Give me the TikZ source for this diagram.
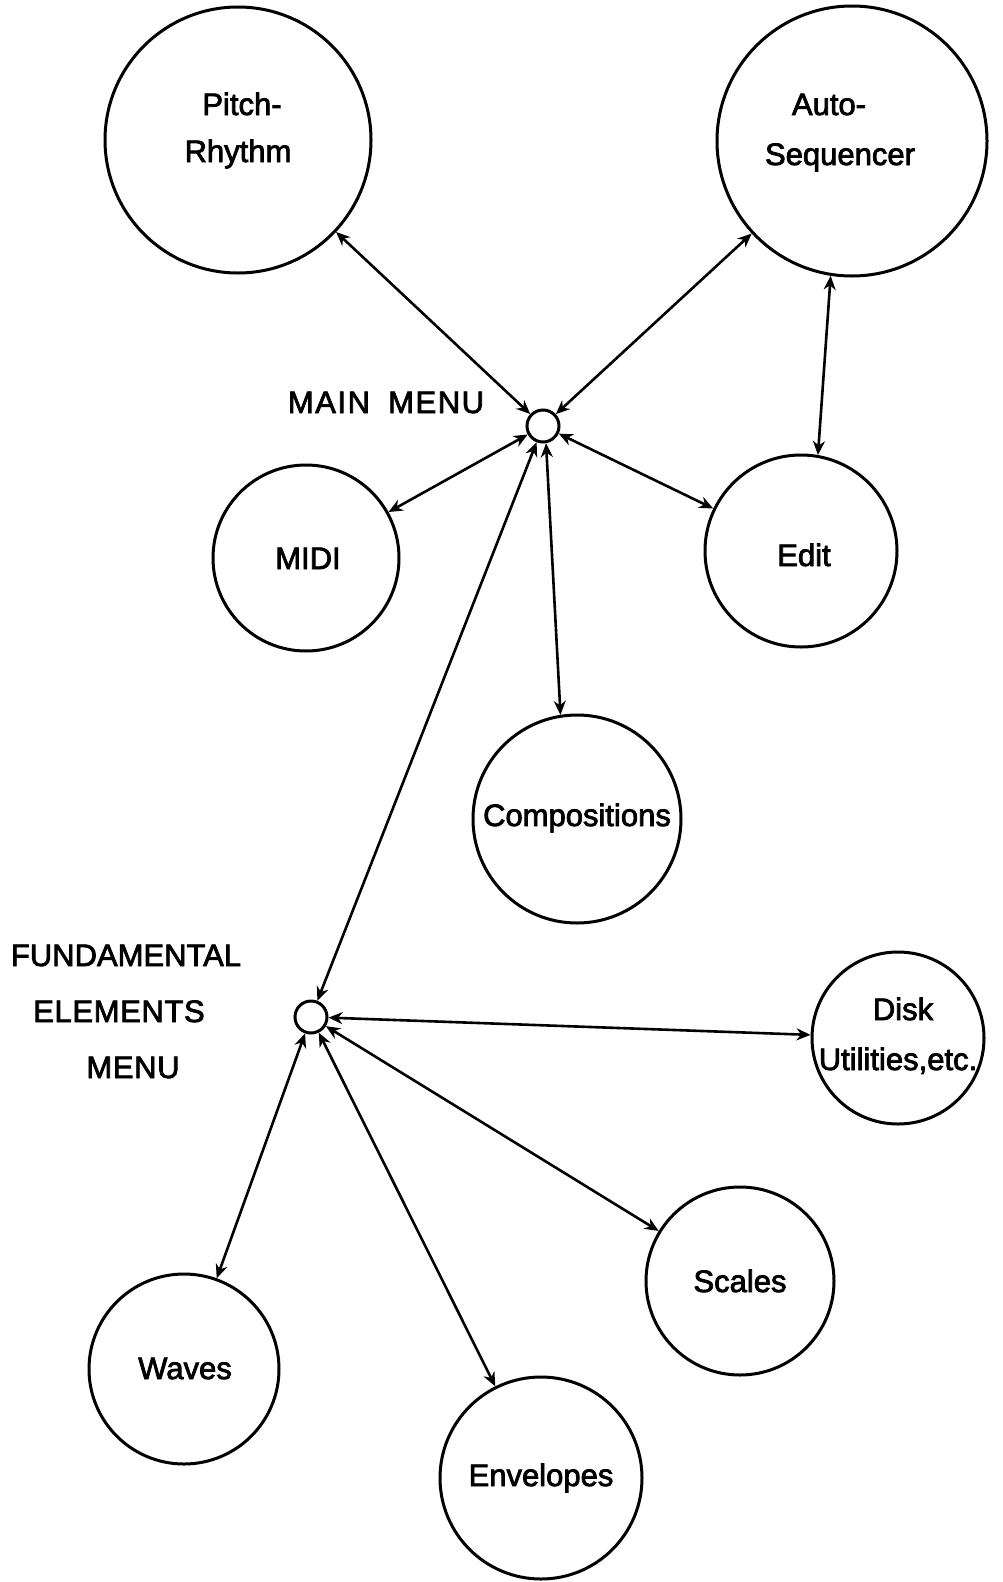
\documentclass[tikz,border=0pt]{standalone}
\usepackage{fontspec}
\setmainfont{Liberation Sans}[FakeBold=2.5]
\usetikzlibrary{arrows.meta}
\begin{document}
\begin{tikzpicture}[x=1pt,y=-1pt,
  bub/.style={draw,circle,line width=3pt,inner sep=0pt},
  hub/.style={draw,circle,line width=3pt,inner sep=0pt,minimum size=32pt},
  txt/.style={inner sep=0pt,text height=22pt,text depth=0pt,
    font=\fontsize{31}{40}\selectfont},
  arr/.style={line width=2.6pt,{Stealth[length=14pt,width=12pt]}-{Stealth[length=14pt,width=12pt]}}]
\useasboundingbox (0,0) rectangle (1003,1582);
% circles
\node[bub,minimum size=266pt] (pitch) at (238,140) {};
\node[bub,minimum size=270pt] (auto) at (852,141) {};
\node[hub] (main) at (543,426) {};
\node[bub,minimum size=186pt] (midi) at (306,558) {};
\node[bub,minimum size=192pt] (edit) at (801,551) {};
\node[bub,minimum size=208pt] (comp) at (577,819) {};
\node[hub] (fund) at (311,1017) {};
\node[bub,minimum size=172pt] (disk) at (898,1038) {};
\node[bub,minimum size=188pt] (scales) at (740,1281) {};
\node[bub,minimum size=190pt] (waves) at (184,1369) {};
\node[bub,minimum size=202pt] (env) at (541,1478) {};
% texts
\node[txt] (t1) at (242,104) {Pitch-};
\node[txt] (t2) at (238,151) {Rhythm};
\node[txt] (t3) at (829,104) {Auto-};
\node[txt] (t4) at (840,154) {Sequencer};
\node[txt] (t5) at (386,402) {\addfontfeature{LetterSpace=5}MAIN\hspace{8pt} MENU};
\node[txt] (t6) at (308,558) {MIDI};
\node[txt] (t7) at (804,555) {Edit};
\node[txt] (t8) at (577,815) {Compositions};
\node[txt] (t9) at (126,955) {FUNDAMENTAL};
\node[txt] (t10) at (119,1011) {\addfontfeature{LetterSpace=2}ELEMENTS};
\node[txt] (t11) at (133,1067) {\addfontfeature{LetterSpace=2}MENU};
\node[txt] (t12) at (903,1009) {Disk};
\node[txt] (t13) at (898,1059) {Utilities,etc.};
\node[txt] (t14) at (740,1281) {Scales};
\node[txt] (t15) at (185,1368) {Waves};
\node[txt] (t16) at (541,1475) {Envelopes};
% connectors
\draw[arr] (pitch) -- (main);
\draw[arr] (auto) -- (main);
\draw[arr] (auto.261) -- (edit.80);
\draw[arr] (main) -- (midi);
\draw[arr] (main) -- (edit);
\draw[arr] (main.-80) -- (comp.99);
\draw[arr] (main) -- (fund);
\draw[arr] (fund) -- (disk);
\draw[arr] (fund) -- (scales);
\draw[arr] (fund) -- (env);
\draw[arr] (fund) -- (waves);
\end{tikzpicture}
\end{document}
